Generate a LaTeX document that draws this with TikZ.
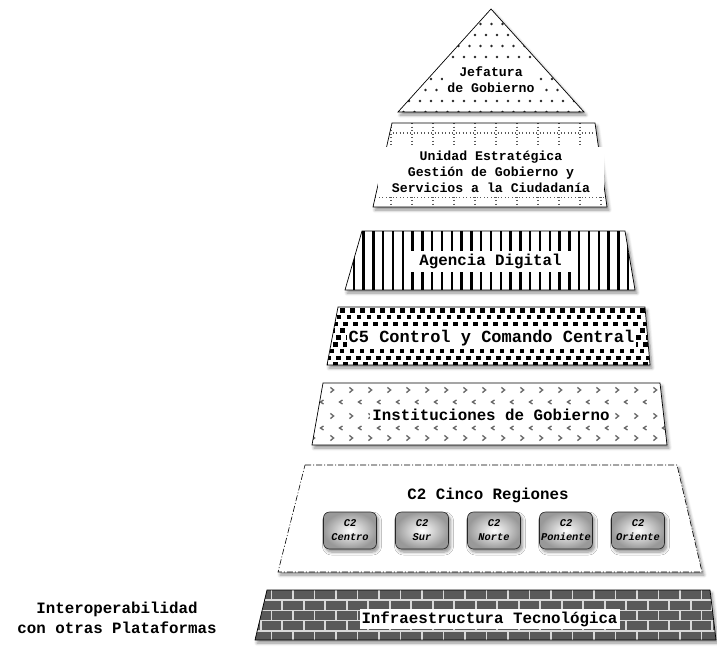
\documentclass[tikz,border=0pt]{standalone}
\usepackage{fontspec}
\setmonofont{Liberation Mono}
\usetikzlibrary{shadows.blur}

\begin{document}
\begin{tikzpicture}[x=1pt, y=-1pt,
    layer/.style={draw=black, line width=0.7pt},
    layershadow/.style={fill=white, blur shadow={shadow xshift=2pt, shadow yshift=-3pt,
        shadow blur radius=3pt, shadow blur steps=6, shadow opacity=45}},
    tag/.style={fill=white, inner sep=2pt, align=center,
        font=\ttfamily\bfseries\fontsize{15.8}{18}\selectfont},
    smalltag/.style={tag, font=\ttfamily\bfseries\fontsize{13.2}{16.2}\selectfont},
    dotline/.style={black!65, line width=1.3pt, dash pattern=on 1.3pt off 2.2pt},
    chev/.style={black!60, line width=1.3pt},
    mortar/.style={black!15, line width=1.6pt},
    regbox/.style={draw=black!85, line width=0.6pt, rounded corners=6pt,
        inner color=white, outer color=black!40,
        minimum width=53pt, minimum height=37pt, inner sep=1pt, align=center,
        font=\ttfamily\bfseries\itshape\fontsize{10.4}{14}\selectfont,
        blur shadow={shadow xshift=2pt, shadow yshift=-3pt, shadow blur radius=3pt,
        shadow blur steps=6, shadow opacity=45}}]
  \useasboundingbox (0,0) rectangle (717,646);

  % Jefatura de Gobierno
  \coordinate (j-top) at (491,9);
  \coordinate (j-br) at (584,112);
  \coordinate (j-bl) at (398,112);
  \path[layershadow] (j-top) -- (j-br) -- (j-bl) -- cycle;
  \begin{scope}
    \clip (j-top) -- (j-br) -- (j-bl) -- cycle;
    \foreach \r in {0,...,9}
      \foreach \c in {0,...,17}
        \fill[black!85] ({398+\c*11+mod(\r,2)*5.5},{13+\r*11}) circle (1.4pt);
  \end{scope}
  \draw[layer] (j-top) -- (j-br) -- (j-bl) -- cycle;
  \node[smalltag, inner xsep=4pt] (jefatura) at (491,80) {Jefatura\\de Gobierno};

  % Unidad Estrategica
  \coordinate (u-tl) at (392,123);
  \coordinate (u-tr) at (595,123);
  \coordinate (u-br) at (607,207);
  \coordinate (u-bl) at (373,207);
  \path[layershadow] (u-tl) -- (u-tr) -- (u-br) -- (u-bl) -- cycle;
  \begin{scope}
    \clip (u-tl) -- (u-tr) -- (u-br) -- (u-bl) -- cycle;
    \foreach \y in {133,197}
      \draw[dotline] (368,\y) -- (612,\y);
    \foreach \i in {0,...,11}
      \draw[dotline] ({370+\i*21},123) -- ++(0,84);
  \end{scope}
  \draw[layer] (u-tl) -- (u-tr) -- (u-br) -- (u-bl) -- cycle;
  \node[smalltag, inner xsep=14pt, inner ysep=4pt] (unidad) at (491,172)
    {Unidad Estratégica\\Gestión de Gobierno y\\Servicios a la Ciudadanía};

  % Agencia Digital
  \coordinate (a-tl) at (362,231);
  \coordinate (a-tr) at (625,231);
  \coordinate (a-br) at (635,290);
  \coordinate (a-bl) at (345,290);
  \path[layershadow] (a-tl) -- (a-tr) -- (a-br) -- (a-bl) -- cycle;
  \begin{scope}
    \clip (a-tl) -- (a-tr) -- (a-br) -- (a-bl) -- cycle;
    \foreach \i in {0,...,30}
      \draw[line width=2.4pt] ({344+\i*9.8},231) -- ++(0,59);
  \end{scope}
  \draw[layer] (a-tl) -- (a-tr) -- (a-br) -- (a-bl) -- cycle;
  \node[tag, inner xsep=10pt, inner ysep=3pt] (agencia) at (490.5,261.5) {Agencia Digital};

  % C5
  \coordinate (c-tl) at (338,307);
  \coordinate (c-tr) at (645,307);
  \coordinate (c-br) at (650,365);
  \coordinate (c-bl) at (327,365);
  \path[layershadow] (c-tl) -- (c-tr) -- (c-br) -- (c-bl) -- cycle;
  \begin{scope}
    \clip (c-tl) -- (c-tr) -- (c-br) -- (c-bl) -- cycle;
    \foreach \r in {0,...,8}
      \foreach \c in {0,...,34}
        \fill ({320+\c*10-mod(\r*3.4,10)},{308+\r*6.8}) rectangle ++(4.8,4.6);
  \end{scope}
  \draw[layer] (c-tl) -- (c-tr) -- (c-br) -- (c-bl) -- cycle;
  \node[tag, font=\ttfamily\bfseries\fontsize{17}{20}\selectfont] (cinco) at (491.5,338)
    {C5 Control y Comando Central};

  % Instituciones de Gobierno
  \coordinate (i-tl) at (323,383);
  \coordinate (i-tr) at (660,383);
  \coordinate (i-br) at (667,445);
  \coordinate (i-bl) at (312,445);
  \path[layershadow] (i-tl) -- (i-tr) -- (i-br) -- (i-bl) -- cycle;
  \begin{scope}
    \clip (i-tl) -- (i-tr) -- (i-br) -- (i-bl) -- cycle;
    \foreach \y in {390,416,438}
      \foreach \i in {0,...,19}
        \draw[chev] ({313+\i*19},\y) ++(-1.6,-2.6) -- ++(3.2,2.6) -- ++(-3.2,2.6);
    \foreach \y in {402,428}
      \foreach \i in {0,...,19}
        \draw[chev] ({322+\i*19},\y) ++(1.5,-2) -- ++(-3,2) -- ++(3,2);
  \end{scope}
  \draw[layer] (i-tl) -- (i-tr) -- (i-br) -- (i-bl) -- cycle;
  \node[tag] (instituciones) at (491,415) {Instituciones de Gobierno};

  % C2 Cinco Regiones
  \coordinate (r-tl) at (305,465);
  \coordinate (r-tr) at (677,465);
  \coordinate (r-br) at (702,572);
  \coordinate (r-bl) at (278,572);
  \path[layershadow] (r-tl) -- (r-tr) -- (r-br) -- (r-bl) -- cycle;
  \draw[layer, line width=0.6pt, dash pattern=on 6pt off 2pt on 1pt off 2pt]
    (r-tl) -- (r-tr) -- (r-br) -- (r-bl) -- cycle;
  \node[tag, fill=none] (regiones) at (488,495) {C2 Cinco Regiones};
  \foreach \x/\name/\txt in {350/centro/Centro, 422/sur/Sur, 494/norte/Norte,
      566/poniente/Poniente, 638/oriente/Oriente}
    \node[regbox] (\name) at (\x,530.5) {C2\\\txt};

  % Infraestructura Tecnologica
  \coordinate (f-tl) at (267,590);
  \coordinate (f-tr) at (710,590);
  \coordinate (f-br) at (716,640);
  \coordinate (f-bl) at (255,640);
  \path[layershadow] (f-tl) -- (f-tr) -- (f-br) -- (f-bl) -- cycle;
  \begin{scope}
    \clip (f-tl) -- (f-tr) -- (f-br) -- (f-bl) -- cycle;
    \fill[black!65] (250,588) rectangle (720,642);
    \foreach \k in {1,...,4}
      \draw[mortar] (250,{590+\k*10.2}) -- (720,{590+\k*10.2});
    \foreach \k in {0,...,4}
      \foreach \j in {0,...,22}
        \draw[mortar] ({250+\j*21.5+mod(\k,2)*10.75},{590+\k*10.2}) -- ++(0,10.2);
  \end{scope}
  \draw[layer] (f-tl) -- (f-tr) -- (f-br) -- (f-bl) -- cycle;
  \node[tag] (infra) at (489.5,619) {Infraestructura Tecnológica};

  \node[tag, fill=none, font=\ttfamily\bfseries\fontsize{15.8}{20}\selectfont]
    (interop) at (117,618) {Interoperabilidad\\con otras Plataformas};
\end{tikzpicture}
\end{document}
